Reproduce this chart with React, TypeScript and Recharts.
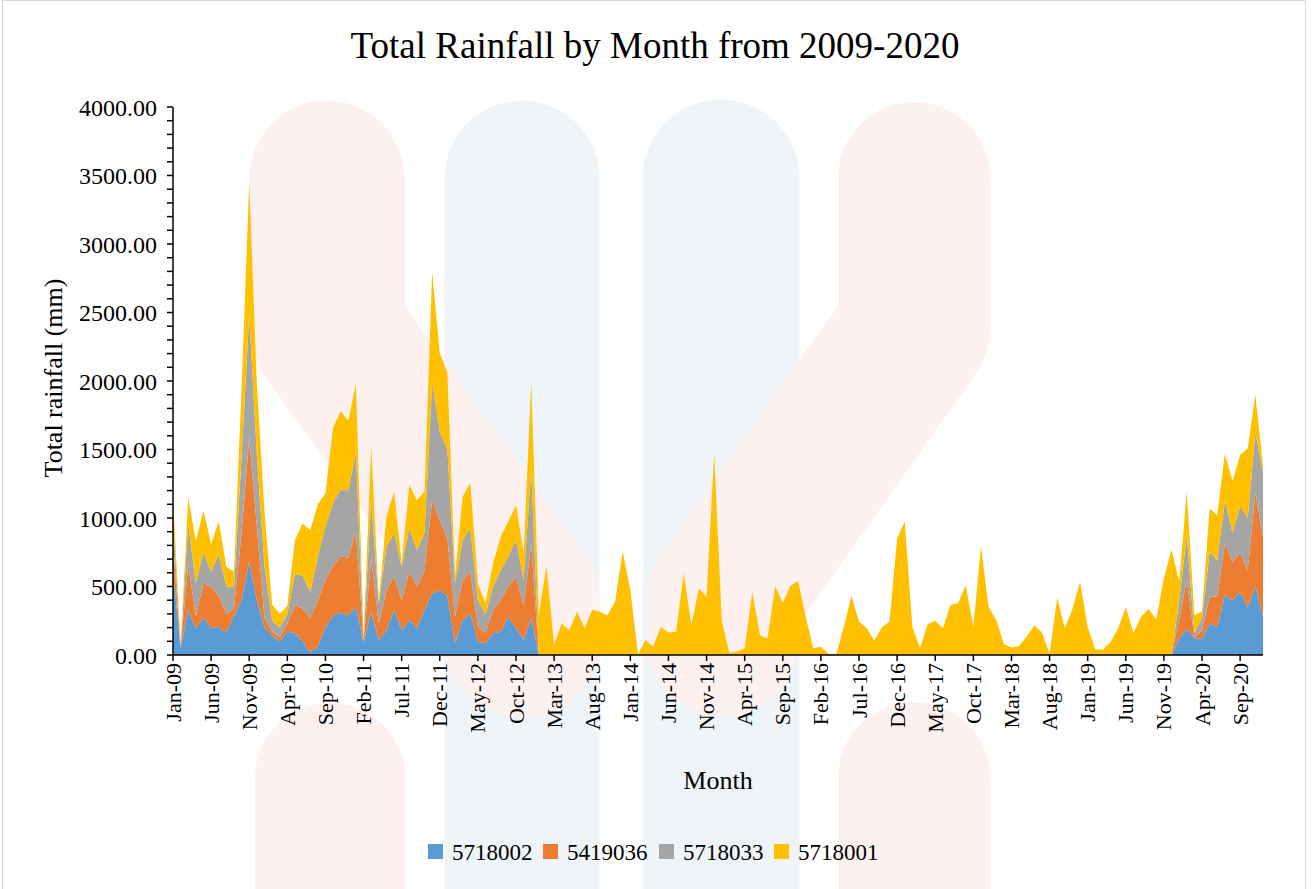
import React from "react";
import { AreaChart, Area, XAxis, YAxis } from "recharts";

const FONT = "'Liberation Serif', 'Times New Roman', serif";

const MONTH_ABBR = ["Jan", "Feb", "Mar", "Apr", "May", "Jun", "Jul", "Aug", "Sep", "Oct", "Nov", "Dec"];
const YEARS = ["09", "10", "11", "12", "13", "14", "15", "16", "17", "18", "19", "20"];
const monthLabels = YEARS.flatMap((y) => MONTH_ABBR.map((m) => `${m}-${y}`));

const Y_TICKS = Array.from({ length: 41 }, (_, i) => i * 100);

// monthly rainfall (mm), Jan-09 .. Dec-20
const s5718002 = [
  620, 50, 330, 190, 275, 195, 205, 165, 285, 400, 685, 400,
  200, 140, 100, 170, 160, 100, 20, 60, 200, 290, 310, 290,
  350, 90, 315, 110, 180, 330, 180, 255, 195, 330, 450, 470,
  430, 85, 255, 305, 95, 85, 160, 170, 280, 195, 110, 270,
  0, 0, 0, 0, 0, 0, 0, 0, 0, 0, 0, 0,
  0, 0, 0, 0, 0, 0, 0, 0, 0, 0, 0, 0,
  0, 0, 0, 0, 0, 0, 0, 0, 0, 0, 0, 0,
  0, 0, 0, 0, 0, 0, 0, 0, 0, 0, 0, 0,
  0, 0, 0, 0, 0, 0, 0, 0, 0, 0, 0, 0,
  0, 0, 0, 0, 0, 0, 0, 0, 0, 0, 0, 0,
  0, 0, 0, 0, 0, 0, 0, 0, 0, 0, 0, 0,
  120, 190, 120, 120, 230, 205, 440, 400, 460, 345, 505, 280,
];

const s5419036 = [
  200, 10, 330, 95, 250, 305, 225, 135, 55, 500, 900, 540,
  70, 30, 30, 60, 205, 240, 250, 340, 350, 360, 410, 420,
  550, 10, 390, 120, 295, 245, 220, 355, 305, 290, 680, 510,
  420, 195, 290, 305, 110, 75, 170, 230, 220, 375, 245, 545,
  0, 0, 0, 0, 0, 0, 0, 0, 0, 0, 0, 0,
  0, 0, 0, 0, 0, 0, 0, 0, 0, 0, 0, 0,
  0, 0, 0, 0, 0, 0, 0, 0, 0, 0, 0, 0,
  0, 0, 0, 0, 0, 0, 0, 0, 0, 0, 0, 0,
  0, 0, 0, 0, 0, 0, 0, 0, 0, 0, 0, 0,
  0, 0, 0, 0, 0, 0, 0, 0, 0, 0, 0, 0,
  0, 0, 0, 0, 0, 0, 0, 0, 0, 0, 0, 0,
  135, 360, 10, 60, 195, 220, 375, 280, 285, 275, 680, 585,
];

const s5718033 = [
  180, 10, 290, 240, 225, 105, 305, 200, 155, 550, 900, 520,
  380, 80, 70, 70, 225, 240, 190, 320, 390, 460, 490, 490,
  580, 15, 425, 145, 315, 315, 245, 315, 265, 270, 865, 650,
  650, 245, 295, 315, 195, 135, 170, 220, 220, 270, 195, 535,
  0, 0, 0, 0, 0, 0, 0, 0, 0, 0, 0, 0,
  0, 0, 0, 0, 0, 0, 0, 0, 0, 0, 0, 0,
  0, 0, 0, 0, 0, 0, 0, 0, 0, 0, 0, 0,
  0, 0, 0, 0, 0, 0, 0, 0, 0, 0, 0, 0,
  0, 0, 0, 0, 0, 0, 0, 0, 0, 0, 0, 0,
  0, 0, 0, 0, 0, 0, 0, 0, 0, 0, 0, 0,
  0, 0, 0, 0, 0, 0, 0, 0, 0, 0, 0, 0,
  145, 325, 30, 90, 330, 265, 315, 215, 340, 380, 445, 465,
];

const s5718001 = [
  150, 10, 200, 305, 305, 205, 240, 145, 115, 500, 960, 520,
  400, 120, 100, 60, 250, 380, 450, 380, 240, 550, 570, 510,
  500, 20, 400, 25, 220, 300, 25, 315, 365, 305, 800, 570,
  560, 50, 315, 330, 120, 85, 170, 245, 255, 255, 195, 645,
  300, 650, 75, 230, 180, 315, 195, 330, 315, 290, 390, 755,
  475, 5, 110, 60, 205, 165, 170, 595, 220, 485, 425, 1470,
  245, 15, 25, 50, 460, 145, 120, 500, 380, 505, 540, 280,
  50, 60, 10, 5, 205, 430, 245, 195, 105, 200, 245, 850,
  975, 205, 50, 225, 250, 195, 365, 380, 510, 205, 795, 350,
  255, 80, 55, 65, 135, 215, 165, 10, 420, 195, 335, 535,
  205, 40, 40, 95, 195, 350, 160, 280, 335, 260, 560, 770,
  135, 315, 130, 50, 315, 330, 340, 375, 375, 510, 270, 50,
];

const SERIES = [
  { key: "s5718002", name: "5718002", color: "#5B9BD5" },
  { key: "s5419036", name: "5419036", color: "#ED7D31" },
  { key: "s5718033", name: "5718033", color: "#A5A5A5" },
  { key: "s5718001", name: "5718001", color: "#FFC000" },
];

const data = monthLabels.map((month, i) => ({
  month,
  s5718002: s5718002[i],
  s5419036: s5419036[i],
  s5718033: s5718033[i],
  s5718001: s5718001[i],
}));

const XTick = (props: any) => {
  const { x, y, payload } = props;
  return (
    <text
      x={x}
      y={y}
      transform={`rotate(-90, ${x}, ${y})`}
      textAnchor="end"
      dominantBaseline="central"
      fontSize={22}
      fontFamily={FONT}
      fill="#000"
    >
      {payload.value}
    </text>
  );
};

const LEGEND_X = [428, 543, 659, 774];

function Watermark() {
  const blue = "#eff4f8";
  const pink = "#fdf1f0";
  return (
    <g>
      <path d="M522 178 L522 900" stroke={blue} strokeWidth={155} strokeLinecap="round" fill="none" />
      <path d="M721 178 L721 900" stroke={blue} strokeWidth={157} strokeLinecap="round" fill="none" />
      <path d="M327 178 L327 330 L522 600 L522 640" stroke={pink} strokeWidth={155} strokeLinecap="round" strokeLinejoin="round" fill="none" />
      <path d="M914 178 L914 330 L722 600 L722 640" stroke={pink} strokeWidth={152} strokeLinecap="round" strokeLinejoin="round" fill="none" />
      <path d="M330 778 L330 900" stroke={pink} strokeWidth={150} strokeLinecap="round" fill="none" />
      <path d="M914 778 L914 900" stroke={pink} strokeWidth={152} strokeLinecap="round" fill="none" />
    </g>
  );
}

export default function App() {
  return (
    <div style={{ position: "absolute", left: 0, top: 0, width: 1312, height: 889, background: "#fff", overflow: "hidden" }}>
      <svg width={1312} height={889} style={{ position: "absolute", left: 0, top: 0 }}>
        <Watermark />
        <rect x={2.5} y={0.5} width={1303} height={900} fill="none" stroke="#d9d9d9" />
        <text x={655} y={45} textAnchor="middle" dominantBaseline="central" fontSize={37} fontFamily={FONT} fill="#000">
          Total Rainfall by Month from 2009-2020
        </text>
        <text
          x={53}
          y={378}
          transform="rotate(-90, 53, 378)"
          textAnchor="middle"
          dominantBaseline="central"
          fontSize={26}
          fontFamily={FONT}
          fill="#000"
        >
          Total rainfall (mm)
        </text>
        <text x={718} y={780} textAnchor="middle" dominantBaseline="central" fontSize={26} fontFamily={FONT} fill="#000">
          Month
        </text>
        {SERIES.map((s, i) => (
          <g key={s.key}>
            <rect x={LEGEND_X[i]} y={844} width={15} height={15} fill={s.color} />
            <text x={LEGEND_X[i] + 24} y={852} dominantBaseline="central" fontSize={23} fontFamily={FONT} fill="#000">
              {s.name}
            </text>
          </g>
        ))}
      </svg>
      <div style={{ position: "absolute", left: 0, top: 0 }}>
        <AreaChart width={1312} height={889} data={data} margin={{ top: 107, right: 49, bottom: 134, left: 0 }}>
          <XAxis
            dataKey="month"
            interval={4}
            tickSize={6}
            height={100}
            stroke="#000"
            axisLine={{ stroke: "#000", strokeWidth: 1.5 }}
            tickLine={{ stroke: "#000", strokeWidth: 1.5 }}
            tick={<XTick />}
          />
          <YAxis
            width={173}
            domain={[0, 4000]}
            ticks={Y_TICKS}
            interval={0}
            tickSize={6}
            tickMargin={10}
            stroke="#000"
            axisLine={{ stroke: "#000", strokeWidth: 1.5 }}
            tickLine={{ stroke: "#000", strokeWidth: 1.5 }}
            tickFormatter={(v: number) => (v % 500 === 0 ? v.toFixed(2) : "")}
            tick={{ fontSize: 24, fontFamily: FONT, fill: "#000" }}
          />
          {SERIES.map((s) => (
            <Area
              key={s.key}
              type="linear"
              dataKey={s.key}
              name={s.name}
              stackId="rain"
              stroke="none"
              fill={s.color}
              fillOpacity={1}
              isAnimationActive={false}
            />
          ))}
        </AreaChart>
      </div>
    </div>
  );
}
